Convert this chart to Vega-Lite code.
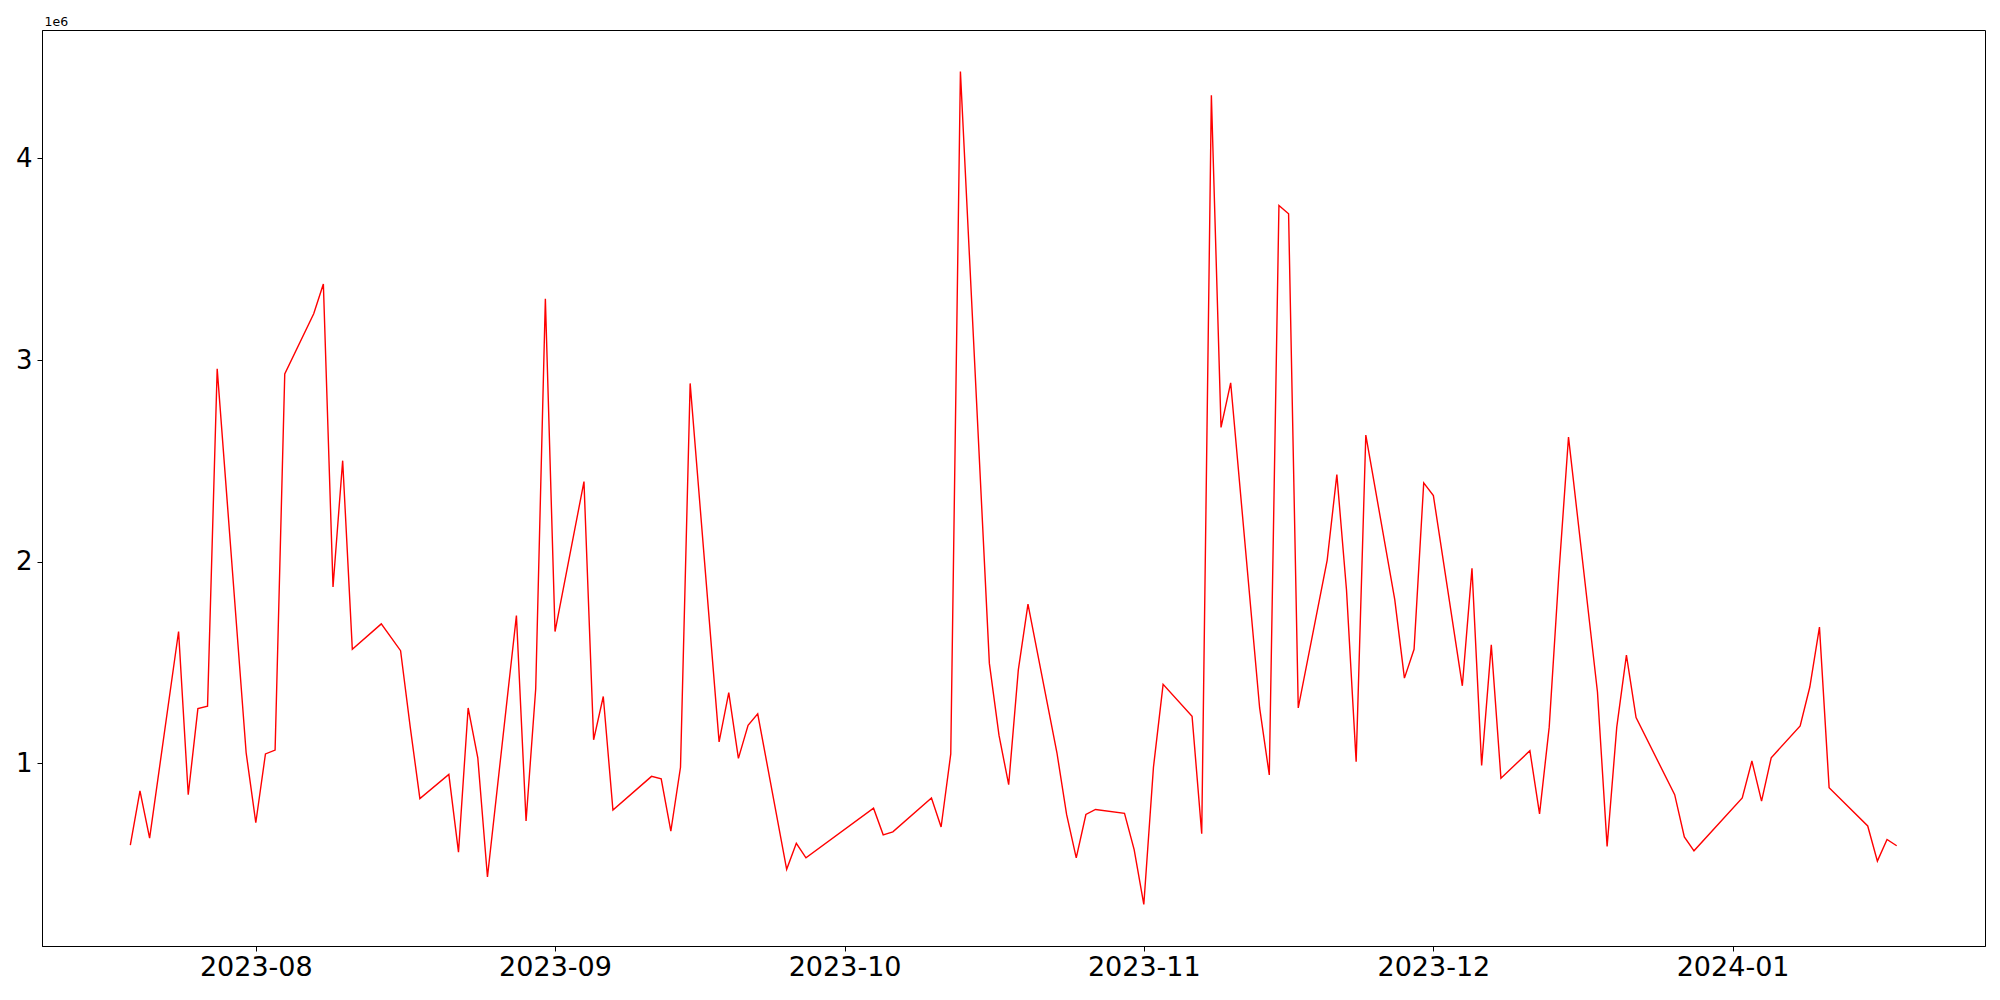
{
  "$schema": "https://vega.github.io/schema/vega-lite/v6.json",
  "width": 1943,
  "height": 916,
  "autosize": "none",
  "padding": {"left": 42, "top": 30, "right": 15, "bottom": 54},
  "background": "white",
  "config": {
    "font": "DejaVu Sans",
    "view": {"stroke": "black", "strokeWidth": 1},
    "axis": {"grid": false, "domainColor": "black", "tickColor": "black", "tickSize": 5, "tickWidth": 1, "labelColor": "black", "labelFont": "DejaVu Sans"}
  },
  "data": {"values": [
    {"date": "2023-07-19", "value": 595000},
    {"date": "2023-07-20", "value": 864000},
    {"date": "2023-07-21", "value": 630000},
    {"date": "2023-07-24", "value": 1654000},
    {"date": "2023-07-25", "value": 845000},
    {"date": "2023-07-26", "value": 1272000},
    {"date": "2023-07-27", "value": 1284000},
    {"date": "2023-07-28", "value": 2957000},
    {"date": "2023-07-31", "value": 1053000},
    {"date": "2023-08-01", "value": 706000},
    {"date": "2023-08-02", "value": 1047000},
    {"date": "2023-08-03", "value": 1066000},
    {"date": "2023-08-04", "value": 2931000},
    {"date": "2023-08-07", "value": 3229000},
    {"date": "2023-08-08", "value": 3377000},
    {"date": "2023-08-09", "value": 1875000},
    {"date": "2023-08-10", "value": 2501000},
    {"date": "2023-08-11", "value": 1566000},
    {"date": "2023-08-14", "value": 1692000},
    {"date": "2023-08-16", "value": 1559000},
    {"date": "2023-08-17", "value": 1180000},
    {"date": "2023-08-18", "value": 826000},
    {"date": "2023-08-21", "value": 946000},
    {"date": "2023-08-22", "value": 560000},
    {"date": "2023-08-23", "value": 1275000},
    {"date": "2023-08-24", "value": 1028000},
    {"date": "2023-08-25", "value": 437000},
    {"date": "2023-08-28", "value": 1733000},
    {"date": "2023-08-29", "value": 715000},
    {"date": "2023-08-30", "value": 1370000},
    {"date": "2023-08-31", "value": 3304000},
    {"date": "2023-09-01", "value": 1654000},
    {"date": "2023-09-04", "value": 2397000},
    {"date": "2023-09-05", "value": 1117000},
    {"date": "2023-09-06", "value": 1332000},
    {"date": "2023-09-07", "value": 769000},
    {"date": "2023-09-11", "value": 936000},
    {"date": "2023-09-12", "value": 924000},
    {"date": "2023-09-13", "value": 665000},
    {"date": "2023-09-14", "value": 981000},
    {"date": "2023-09-15", "value": 2884000},
    {"date": "2023-09-18", "value": 1107000},
    {"date": "2023-09-19", "value": 1351000},
    {"date": "2023-09-20", "value": 1025000},
    {"date": "2023-09-21", "value": 1189000},
    {"date": "2023-09-22", "value": 1246000},
    {"date": "2023-09-25", "value": 475000},
    {"date": "2023-09-26", "value": 604000},
    {"date": "2023-09-27", "value": 532000},
    {"date": "2023-10-04", "value": 778000},
    {"date": "2023-10-05", "value": 646000},
    {"date": "2023-10-06", "value": 661000},
    {"date": "2023-10-10", "value": 829000},
    {"date": "2023-10-11", "value": 685000},
    {"date": "2023-10-12", "value": 1047000},
    {"date": "2023-10-13", "value": 4430000},
    {"date": "2023-10-16", "value": 1496000},
    {"date": "2023-10-17", "value": 1139000},
    {"date": "2023-10-18", "value": 895000},
    {"date": "2023-10-19", "value": 1464000},
    {"date": "2023-10-20", "value": 1790000},
    {"date": "2023-10-23", "value": 1053000},
    {"date": "2023-10-24", "value": 747000},
    {"date": "2023-10-25", "value": 532000},
    {"date": "2023-10-26", "value": 747000},
    {"date": "2023-10-27", "value": 772000},
    {"date": "2023-10-30", "value": 753000},
    {"date": "2023-10-31", "value": 573000},
    {"date": "2023-11-01", "value": 301000},
    {"date": "2023-11-02", "value": 981000},
    {"date": "2023-11-03", "value": 1392000},
    {"date": "2023-11-06", "value": 1234000},
    {"date": "2023-11-07", "value": 652000},
    {"date": "2023-11-08", "value": 4313000},
    {"date": "2023-11-09", "value": 2666000},
    {"date": "2023-11-10", "value": 2887000},
    {"date": "2023-11-13", "value": 1275000},
    {"date": "2023-11-14", "value": 943000},
    {"date": "2023-11-15", "value": 3766000},
    {"date": "2023-11-16", "value": 3725000},
    {"date": "2023-11-17", "value": 1275000},
    {"date": "2023-11-20", "value": 2008000},
    {"date": "2023-11-21", "value": 2432000},
    {"date": "2023-11-22", "value": 1860000},
    {"date": "2023-11-23", "value": 1009000},
    {"date": "2023-11-24", "value": 2628000},
    {"date": "2023-11-27", "value": 1812000},
    {"date": "2023-11-28", "value": 1423000},
    {"date": "2023-11-29", "value": 1566000},
    {"date": "2023-11-30", "value": 2391000},
    {"date": "2023-12-01", "value": 2328000},
    {"date": "2023-12-04", "value": 1385000},
    {"date": "2023-12-05", "value": 1967000},
    {"date": "2023-12-06", "value": 990000},
    {"date": "2023-12-07", "value": 1588000},
    {"date": "2023-12-08", "value": 927000},
    {"date": "2023-12-11", "value": 1063000},
    {"date": "2023-12-12", "value": 750000},
    {"date": "2023-12-13", "value": 1180000},
    {"date": "2023-12-14", "value": 1939000},
    {"date": "2023-12-15", "value": 2618000},
    {"date": "2023-12-18", "value": 1354000},
    {"date": "2023-12-19", "value": 589000},
    {"date": "2023-12-20", "value": 1180000},
    {"date": "2023-12-21", "value": 1537000},
    {"date": "2023-12-22", "value": 1227000},
    {"date": "2023-12-26", "value": 845000},
    {"date": "2023-12-27", "value": 636000},
    {"date": "2023-12-28", "value": 567000},
    {"date": "2024-01-02", "value": 829000},
    {"date": "2024-01-03", "value": 1012000},
    {"date": "2024-01-04", "value": 813000},
    {"date": "2024-01-05", "value": 1028000},
    {"date": "2024-01-08", "value": 1186000},
    {"date": "2024-01-09", "value": 1379000},
    {"date": "2024-01-10", "value": 1676000},
    {"date": "2024-01-11", "value": 880000},
    {"date": "2024-01-15", "value": 690000},
    {"date": "2024-01-16", "value": 516000},
    {"date": "2024-01-17", "value": 623000},
    {"date": "2024-01-18", "value": 592000}
  ]},
  "mark": {"type": "line", "color": "red", "strokeWidth": 1.4, "clip": true},
  "encoding": {
    "x": {
      "field": "date",
      "type": "temporal",
      "scale": {
        "type": "utc",
        "domain": [
          {"year": 2023, "month": 7, "date": 9, "hours": 20, "minutes": 24, "utc": true},
          {"year": 2024, "month": 1, "date": 27, "hours": 3, "minutes": 36, "utc": true}
        ]
      },
      "axis": {
        "title": null,
        "format": "%Y-%m",
        "values": [
          {"year": 2023, "month": 8, "date": 1, "utc": true},
          {"year": 2023, "month": 9, "date": 1, "utc": true},
          {"year": 2023, "month": 10, "date": 1, "utc": true},
          {"year": 2023, "month": 11, "date": 1, "utc": true},
          {"year": 2023, "month": 12, "date": 1, "utc": true},
          {"year": 2024, "month": 1, "date": 1, "utc": true}
        ],
        "labelFontSize": 27,
        "labelPadding": 3,
        "labelFlush": false,
        "labelOverlap": false
      }
    },
    "y": {
      "field": "value",
      "type": "quantitative",
      "scale": {"domain": [95000, 4636000], "zero": false, "nice": false},
      "axis": {
        "values": [1000000, 2000000, 3000000, 4000000],
        "labelExpr": "format(datum.value / 1000000, 'd')",
        "labelFontSize": 26,
        "labelPadding": 5,
        "title": "1e6",
        "titleAngle": 0,
        "titleX": 2,
        "titleY": -5,
        "titleAlign": "left",
        "titleBaseline": "alphabetic",
        "titleFontSize": 12.5,
        "titleFontWeight": "normal",
        "titleColor": "black",
        "titleFont": "DejaVu Sans"
      }
    }
  }
}
